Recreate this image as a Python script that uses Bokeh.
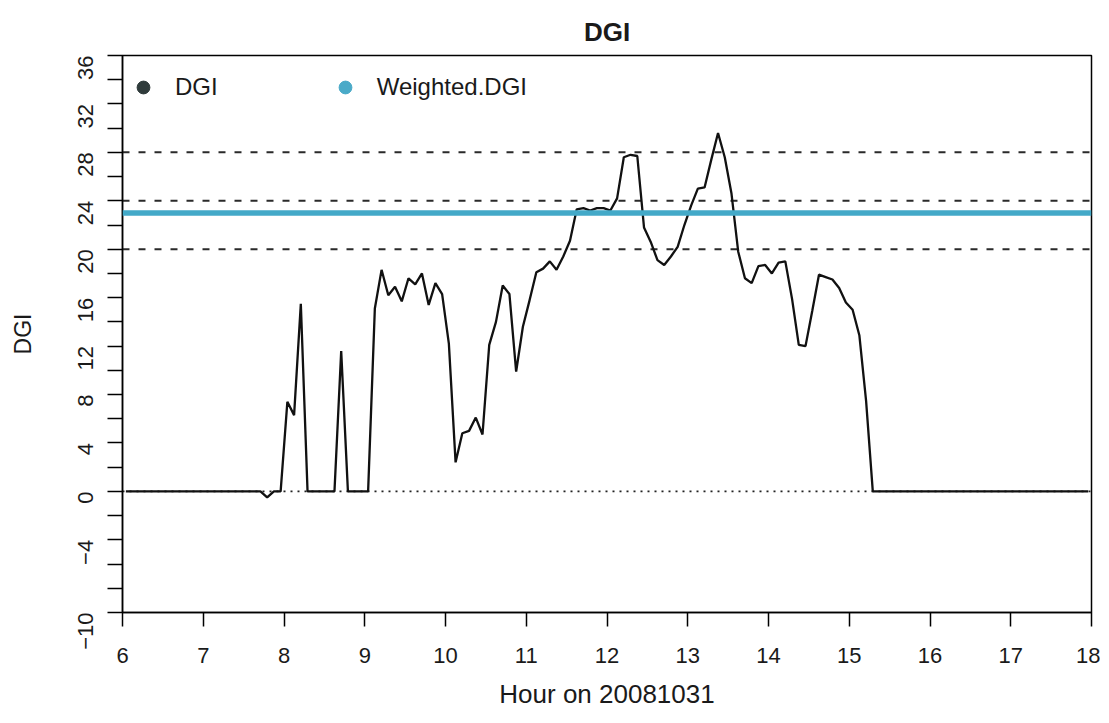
import math
from bokeh.plotting import figure
from bokeh.models import ColumnDataSource, Range1d, FixedTicker, Span, Legend, LegendItem
from bokeh.embed import file_html
from bokeh.resources import INLINE

FONT = "Liberation Sans"
TEXT_COLOR = "#1a1a1a"

# ---------------- data ----------------
title_text = "DGI"
x_label = "Hour on 20081031"
y_label = "DGI"
series_names = ["DGI", "Weighted.DGI"]

# 5-minute samples, first sample centred at 06:02:30
start_hour = 6 + 2.5 / 60
step_hours = 5 / 60

dgi = [
    0.0, 0.0, 0.0, 0.0, 0.0, 0.0, 0.0, 0.0, 0.0, 0.0, 0.0, 0.0,
    0.0, 0.0, 0.0, 0.0, 0.0, 0.0, 0.0, 0.0, 0.0, -0.5, 0.0, 0.0,
    7.4, 6.3, 15.5, 0.0, 0.0, 0.0, 0.0, 0.0, 11.6, 0.0, 0.0, 0.0,
    0.0, 15.1, 18.3, 16.2, 16.9, 15.7, 17.6, 17.1, 18.0, 15.4, 17.2, 16.3,
    12.2, 2.4, 4.8, 5.0, 6.1, 4.7, 12.1, 14.0, 17.0, 16.3, 9.9, 13.6,
    15.8, 18.1, 18.4, 19.0, 18.3, 19.4, 20.7, 23.3, 23.4, 23.2, 23.4, 23.4,
    23.2, 24.2, 27.6, 27.8, 27.7, 21.8, 20.6, 19.1, 18.7, 19.4, 20.2, 22.0,
    23.6, 25.0, 25.1, 27.4, 29.6, 27.6, 24.6, 19.8, 17.6, 17.2, 18.6, 18.7,
    18.0, 18.9, 19.0, 15.9, 12.1, 12.0, 14.9, 17.9, 17.7, 17.5, 16.8, 15.6,
    15.0, 12.9, 7.5, 0.0, 0.0, 0.0, 0.0, 0.0, 0.0, 0.0, 0.0, 0.0,
    0.0, 0.0, 0.0, 0.0, 0.0, 0.0, 0.0, 0.0, 0.0, 0.0, 0.0, 0.0,
    0.0, 0.0, 0.0, 0.0, 0.0, 0.0, 0.0, 0.0, 0.0, 0.0, 0.0, 0.0,
]
weighted_dgi = 23.0
thresholds = [20, 24, 28]
zero_level = 0

x_ticks = [6, 7, 8, 9, 10, 11, 12, 13, 14, 15, 16, 17, 18]
y_ticks = [-10, -8, -6, -4, -2, 0, 2, 4, 6, 8, 10, 12, 14, 16, 18, 20, 22,
           24, 26, 28, 30, 32, 34, 36]
y_tick_labels = {-10: "\u221210", -4: "\u22124", 0: "0", 4: "4", 8: "8",
                 12: "12", 16: "16", 20: "20", 24: "24", 28: "28", 32: "32",
                 36: "36"}

hours = [start_hour + i * step_hours for i in range(len(dgi))]
src = ColumnDataSource(data=dict(hour=hours, dgi=dgi))

# ---------------- figure ----------------
p = figure(width=1100, height=714,
           x_range=Range1d(6, 18), y_range=Range1d(-10, 36),
           output_backend="svg", toolbar_location=None,
           min_border_left=122, min_border_right=9,
           min_border_top=55, min_border_bottom=102)
p.background_fill_color = "white"
p.border_fill_color = "white"
p.grid.visible = False
p.outline_line_color = "black"
p.outline_line_width = 1.5

p.title.text = title_text
p.title.align = "center"
p.title.text_font = FONT
p.title.text_font_size = "26px"
p.title.text_font_style = "bold"
p.title.text_color = TEXT_COLOR
p.title.standoff = 17

for ax in (p.xaxis, p.yaxis):
    ax.axis_line_color = "black"
    ax.axis_line_width = 1.5
    ax.major_tick_line_color = "black"
    ax.major_tick_line_width = 1.5
    ax.major_tick_in = 0
    ax.minor_tick_line_color = None
    ax.major_label_text_font = FONT
    ax.major_label_text_color = TEXT_COLOR
    ax.axis_label_text_font = FONT
    ax.axis_label_text_font_style = "normal"
    ax.axis_label_text_color = TEXT_COLOR

p.xaxis.ticker = FixedTicker(ticks=x_ticks, minor_ticks=[])
p.xaxis.major_tick_out = 14
p.xaxis.major_label_text_font_size = "22px"
p.xaxis.major_label_standoff = 21
p.xaxis.axis_label = x_label
p.xaxis.axis_label_text_font_size = "26px"
p.xaxis.axis_label_standoff = 13

p.yaxis.ticker = FixedTicker(ticks=y_ticks, minor_ticks=[])
p.yaxis.major_label_overrides = {t: y_tick_labels.get(t, "") for t in y_ticks}
p.yaxis.major_tick_out = 15
p.yaxis.major_label_orientation = math.pi / 2
p.yaxis.major_label_text_font_size = "22px"
p.yaxis.major_label_standoff = 22
p.yaxis.axis_label = y_label
p.yaxis.axis_label_text_font_size = "23px"
p.yaxis.axis_label_standoff = 32

# reference lines
p.add_layout(Span(location=zero_level, dimension="width", line_color="#222222",
                  line_width=1.6, line_dash="2 5", level="underlay"))
for t in thresholds:
    p.add_layout(Span(location=t, dimension="width", line_color="#2a2a2a",
                      line_width=2, line_dash="7 9", level="underlay"))

# DGI series
p.line(x="hour", y="dgi", source=src, line_color="#111111", line_width=2.3)

# weighted DGI
p.add_layout(Span(location=weighted_dgi, dimension="width",
                  line_color="#43a9c8", line_width=5.5))

# legend (filled circles like R's pch=19); NaN points are never drawn in the plot
leg_src = ColumnDataSource(data=dict(x=[float("nan")], y=[float("nan")]))
r1 = p.scatter(x="x", y="y", source=leg_src, marker="circle",
               fill_color="#2f3b3b", line_color="#2f3b3b")
r2 = p.scatter(x="x", y="y", source=leg_src, marker="circle",
               fill_color="#4aaac8", line_color="#4aaac8")
legend = Legend(items=[LegendItem(label=series_names[0], renderers=[r1]),
                       LegendItem(label=series_names[1], renderers=[r2])],
                location="top_left", orientation="horizontal",
                margin=0, padding=5, glyph_width=32, glyph_height=54,
                label_height=54, label_standoff=16, spacing=111,
                label_text_font=FONT, label_text_font_size="24px",
                label_text_color=TEXT_COLOR,
                background_fill_alpha=0, border_line_alpha=0)
p.add_layout(legend)

open("out.html", "w").write(file_html(p, INLINE))
